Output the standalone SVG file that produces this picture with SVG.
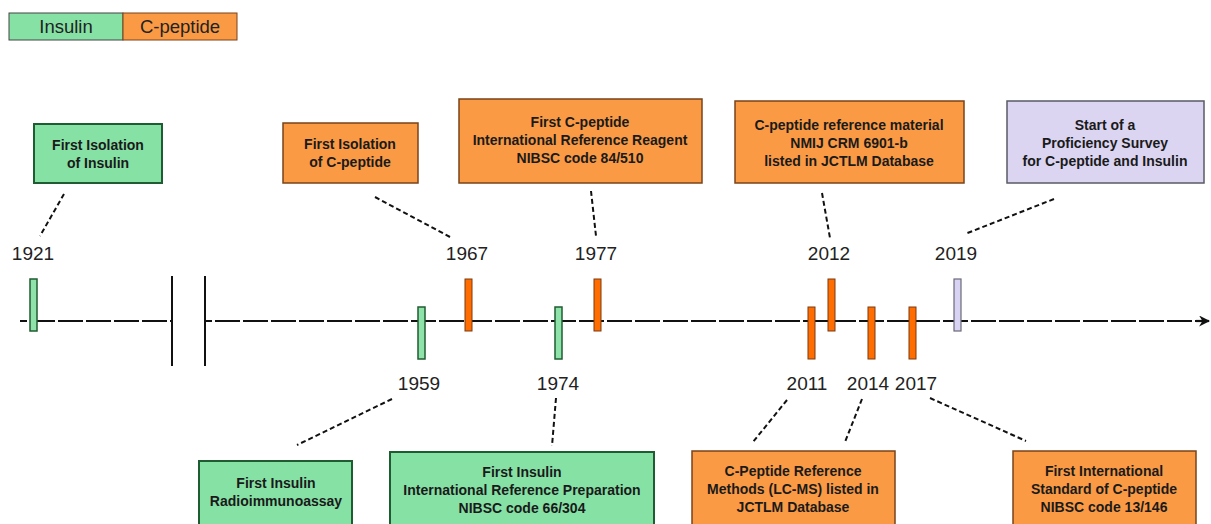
<svg xmlns="http://www.w3.org/2000/svg" width="1211" height="524" viewBox="0 0 1211 524">
  <style>
    .ins { fill: #86e1a5; stroke: #1f5c31; stroke-width: 2; }
    .cpep { fill: #fb9a45; stroke: #7a4318; stroke-width: 1.5; }
    .prof { fill: #dbd5f2; stroke: #5a5a66; stroke-width: 1.5; }
    .barI { fill: #8fe2aa; stroke: #1f5c31; stroke-width: 1.5; }
    .barC { fill: #ff6d00; stroke: #7a3a10; stroke-width: 1; }
    .barP { fill: #d9d3f3; stroke: #6a6a78; stroke-width: 1.2; }
    .lbl { font-family: "Liberation Sans", Arial, sans-serif; font-weight: bold; font-size: 14px; fill: #1a1a1a; text-anchor: middle; }
    .year { font-family: "Liberation Sans", Arial, sans-serif; font-size: 19px; fill: #222; text-anchor: middle; }
    .leg { font-family: "Liberation Sans", Arial, sans-serif; font-size: 18.5px; fill: #222; text-anchor: middle; }
    .lead { stroke: #111; stroke-width: 2; stroke-dasharray: 5 3; fill: none; }
    .axis { stroke: #111; stroke-width: 2.2; stroke-dasharray: 25 3; }
  </style>
  <defs>
    <marker id="arrow" viewBox="0 0 10 10" refX="9" refY="5" markerWidth="11" markerHeight="11" orient="auto" markerUnits="userSpaceOnUse">
      <path d="M0,0 L10,5 L0,10 L3,5 Z" fill="#111"/>
    </marker>
  </defs>

  <!-- legend -->
  <g id="legend">
    <rect x="9" y="13" width="114" height="27" fill="#86e1a5" stroke="#444" stroke-width="1"/>
    <rect x="123" y="13" width="114" height="27" fill="#fb9a45" stroke="#7a4318" stroke-width="1"/>
    <text class="leg" x="66" y="33">Insulin</text>
    <text class="leg" x="180" y="33">C-peptide</text>
  </g>

  <!-- time axis with break -->
  <g id="axis">
    <line class="axis" x1="20" y1="321" x2="172" y2="321" stroke-dashoffset="18"/>
    <line class="axis" x1="205" y1="321" x2="1198" y2="321" stroke-dashoffset="18"/>
    <line x1="1196" y1="321" x2="1209" y2="321" stroke="#111" stroke-width="2.2" marker-end="url(#arrow)"/>
    <line x1="172" y1="276" x2="172" y2="366" stroke="#111" stroke-width="2"/>
    <line x1="205" y1="276" x2="205" y2="366" stroke="#111" stroke-width="2"/>
  </g>

  <!-- year markers -->
  <g id="markers">
    <rect class="barI" x="30" y="279" width="7" height="52"/>
    <rect class="barI" x="418" y="307" width="7" height="52"/>
    <rect class="barC" x="465" y="279" width="7" height="52"/>
    <rect class="barI" x="555" y="307" width="7" height="52"/>
    <rect class="barC" x="594" y="279" width="7" height="52"/>
    <rect class="barC" x="808" y="307" width="7" height="52"/>
    <rect class="barC" x="828" y="279" width="7" height="52"/>
    <rect class="barC" x="868" y="307" width="7" height="52"/>
    <rect class="barC" x="909" y="307" width="7" height="52"/>
    <rect class="barP" x="954" y="279" width="7" height="52"/>
  </g>

  <!-- year labels -->
  <g id="years">
    <text class="year" x="33" y="260">1921</text>
    <text class="year" x="467" y="260">1967</text>
    <text class="year" x="596" y="260">1977</text>
    <text class="year" x="829" y="260">2012</text>
    <text class="year" x="956" y="260">2019</text>
    <text class="year" x="419" y="390">1959</text>
    <text class="year" x="558" y="390">1974</text>
    <text class="year" x="807" y="390">2011</text>
    <text class="year" x="868" y="390">2014</text>
    <text class="year" x="916" y="390">2017</text>
  </g>

  <!-- connectors between years and events -->
  <g id="connectors">
    <line class="lead" x1="64" y1="194" x2="40" y2="236"/>
    <line class="lead" x1="375" y1="197" x2="450" y2="237"/>
    <line class="lead" x1="591" y1="191" x2="596" y2="236"/>
    <line class="lead" x1="822" y1="193" x2="830" y2="238"/>
    <line class="lead" x1="1054" y1="199" x2="965" y2="234"/>
    <line class="lead" x1="392" y1="399" x2="297" y2="445"/>
    <line class="lead" x1="556" y1="398" x2="552" y2="446"/>
    <line class="lead" x1="787" y1="400" x2="753" y2="442"/>
    <line class="lead" x1="862" y1="399" x2="845" y2="442"/>
    <line class="lead" x1="930" y1="398" x2="1026" y2="441"/>
  </g>

  <!-- events above the axis -->
  <g id="n1921">
    <rect class="ins" x="34" y="124" width="128" height="59"/>
    <text class="lbl" x="98" y="150">First Isolation</text>
    <text class="lbl" x="98" y="168">of Insulin</text>
  </g>
  <g id="n1967">
    <rect class="cpep" x="283" y="123" width="135" height="60"/>
    <text class="lbl" x="350" y="149">First Isolation</text>
    <text class="lbl" x="350" y="167">of C-peptide</text>
  </g>
  <g id="n1977">
    <rect class="cpep" x="459" y="99" width="243" height="84"/>
    <text class="lbl" x="580" y="127">First C-peptide</text>
    <text class="lbl" x="580" y="145">International Reference Reagent</text>
    <text class="lbl" x="580" y="163">NIBSC code 84/510</text>
  </g>
  <g id="n2012">
    <rect class="cpep" x="735" y="101" width="229" height="82"/>
    <text class="lbl" x="849" y="130">C-peptide reference material</text>
    <text class="lbl" x="849" y="148">NMIJ CRM 6901-b</text>
    <text class="lbl" x="849" y="166">listed in JCTLM Database</text>
  </g>
  <g id="n2019">
    <rect class="prof" x="1007" y="101" width="197" height="82"/>
    <text class="lbl" x="1105" y="130">Start of a</text>
    <text class="lbl" x="1105" y="148">Proficiency Survey</text>
    <text class="lbl" x="1105" y="166">for C-peptide and Insulin</text>
  </g>

  <!-- events below the axis -->
  <g id="n1959">
    <rect class="ins" x="199" y="461" width="153" height="70"/>
    <text class="lbl" x="276" y="488">First Insulin</text>
    <text class="lbl" x="276" y="506">Radioimmunoassay</text>
  </g>
  <g id="n1974">
    <rect class="ins" x="390" y="452" width="264" height="79"/>
    <text class="lbl" x="522" y="477">First Insulin</text>
    <text class="lbl" x="522" y="495">International Reference Preparation</text>
    <text class="lbl" x="522" y="513">NIBSC code 66/304</text>
  </g>
  <g id="n2011">
    <rect class="cpep" x="692" y="451" width="203" height="80"/>
    <text class="lbl" x="793" y="476">C-Peptide Reference</text>
    <text class="lbl" x="793" y="494">Methods (LC-MS) listed in</text>
    <text class="lbl" x="793" y="512">JCTLM Database</text>
  </g>
  <g id="n2017">
    <rect class="cpep" x="1013" y="451" width="183" height="80"/>
    <text class="lbl" x="1104" y="476">First International</text>
    <text class="lbl" x="1104" y="494">Standard of C-peptide</text>
    <text class="lbl" x="1104" y="512">NIBSC code 13/146</text>
  </g>
</svg>
